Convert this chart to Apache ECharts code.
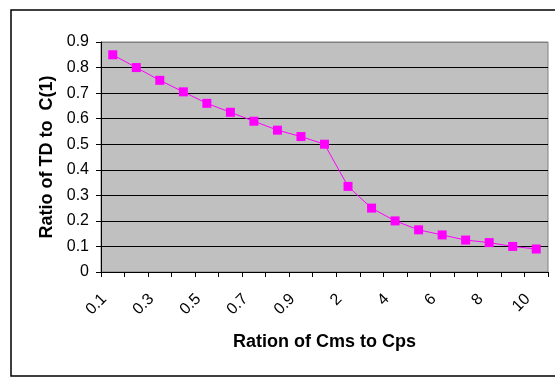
<!DOCTYPE html>
<html>
<head>
<meta charset="utf-8">
<script src="https://cdn.jsdelivr.net/npm/echarts@6/dist/echarts.min.js"></script>
<style>
  html, body { margin: 0; padding: 0; background: #fff; overflow: hidden; }
  #chart { width: 555px; height: 377px; }
</style>
</head>
<body>
<div id="chart"></div>
<script>
// ratio of Cms to Cps (x categories)
const categories = ['0.1', '0.2', '0.3', '0.4', '0.5', '0.6', '0.7', '0.8', '0.9', '1',
  '2', '3', '4', '5', '6', '7', '8', '9', '10'];
// ratio of TD to C(1)
const ratioValues = [0.85, 0.80, 0.75, 0.705, 0.66, 0.625, 0.59, 0.555, 0.53, 0.50,
  0.335, 0.25, 0.20, 0.165, 0.145, 0.125, 0.115, 0.10, 0.09];
const yTicks = [0, 0.1, 0.2, 0.3, 0.4, 0.5, 0.6, 0.7, 0.8, 0.9];

const font = 'Liberation Sans, Arial, sans-serif';
let myChart = echarts.init(document.getElementById('chart'));

// split line colours: top one is the grey plot border
const splitColors = yTicks.map((v, i) => i === yTicks.length - 1 ? '#808080' : '#000');

myChart.setOption({
  animation: false,
  textStyle: { fontFamily: font },
  graphic: [{
    type: 'rect',
    shape: { x: 11, y: 10, width: 620, height: 366 },
    style: { fill: 'none', stroke: '#000', lineWidth: 1.5 },
    silent: true,
    z: -10
  }],
  grid: {
    left: 101,
    right: 7,
    top: 42,
    bottom: 105,
    show: true,
    backgroundColor: '#C0C0C0',
    borderColor: '#808080',
    borderWidth: 1
  },
  xAxis: {
    type: 'category',
    data: categories,
    boundaryGap: true,
    name: 'Ration of Cms to Cps',
    nameLocation: 'middle',
    nameGap: 61,
    nameTextStyle: { fontSize: 18, fontWeight: 'bold', color: '#000', fontFamily: font },
    axisLine: { show: true, lineStyle: { color: '#000', width: 1 } },
    axisTick: { show: true, interval: 0, length: 5, lineStyle: { color: '#000' } },
    axisLabel: {
      interval: 1,
      rotate: 45,
      fontSize: 16,
      color: '#000',
      margin: 16,
      padding: [0, 12, 0, 0],
      fontFamily: font
    },
    splitLine: { show: false }
  },
  yAxis: {
    type: 'value',
    min: 0,
    max: 0.9,
    interval: 0.1,
    name: 'Ratio of TD to  C(1)',
    nameLocation: 'middle',
    nameGap: 44,
    nameTextStyle: { fontSize: 18, fontWeight: 'bold', color: '#000', fontFamily: font },
    axisLine: { show: true, lineStyle: { color: '#000', width: 1 } },
    axisTick: { show: true, length: 5, lineStyle: { color: '#000' } },
    axisLabel: {
      fontSize: 16,
      color: '#000',
      margin: 12,
      fontFamily: font,
      formatter: v => String(Math.round(v * 10) / 10)
    },
    splitLine: { show: true, lineStyle: { color: splitColors, width: 1 } }
  },
  series: [{
    name: 'Ratio',
    type: 'line',
    data: ratioValues,
    symbol: 'rect',
    symbolSize: 9,
    lineStyle: { color: '#FF00FF', width: 1 },
    itemStyle: { color: '#FF00FF' }
  }]
});
</script>
</body>
</html>
